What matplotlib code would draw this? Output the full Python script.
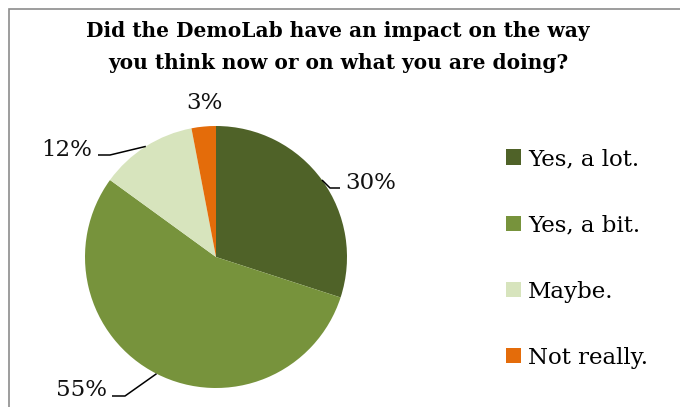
import numpy as np
import matplotlib.pyplot as plt
from matplotlib.patches import Rectangle

# survey answers
labels = ["Yes, a lot.", "Yes, a bit.", "Maybe.", "Not really."]
shares = [30, 55, 12, 3]
pct_text = ["30%", "55%", "12%", "3%"]
colors = ["#4F6228", "#77933C", "#D7E4BD", "#E46C0A"]

title = "Did the DemoLab have an impact on the way\nyou think now or on what you are doing?"

W, H = 680, 407
fig = plt.figure(figsize=(W / 100, H / 100), dpi=100)
ax = fig.add_axes([0, 0, 1, 1])

cx, cy, r = 216, H - 257, 131
wedges, _ = ax.pie(shares, colors=colors, startangle=90, counterclock=False,
                   center=(cx, cy), radius=r, frame=True,
                   wedgeprops=dict(linewidth=0))
ax.set_xlim(0, W)
ax.set_ylim(0, H)
ax.axis("off")

# label placement (text pos, elbow points) in pixel coords, y down
label_pos = {
    "30%": dict(text=(371, 183), line=[(340, 188), (330, 188)]),
    "55%": dict(text=(81, 390), line=[(112, 396), (125, 396)]),
    "12%": dict(text=(67, 150), line=[(98, 155), (110, 155)]),
    "3%": dict(text=(204, 103), line=None),
}

for w, txt in zip(wedges, pct_text):
    mid = np.deg2rad((w.theta1 + w.theta2) / 2)
    ex, ey = cx + r * np.cos(mid), cy + r * np.sin(mid)
    p = label_pos[txt]
    tx, ty = p["text"]
    ax.text(tx, H - ty, txt, ha="center", va="center", fontsize=16.5,
            family="DejaVu Serif", color="#111111")
    if p["line"] is not None:
        xs = [q[0] for q in p["line"]] + [ex]
        ys = [H - q[1] for q in p["line"]] + [ey]
        ax.plot(xs, ys, color="black", lw=1.1, solid_capstyle="butt")

fig.text(338 / W, 1 - 47 / H, title, ha="center", va="center", fontsize=14.5,
         fontweight="bold", family="DejaVu Serif", linespacing=1.8)

leg = ax.legend(wedges, labels, loc="upper left", bbox_to_anchor=(497 / W, 1 - 139 / H),
                frameon=False, fontsize=16.5, handlelength=0.65, handleheight=0.65,
                handletextpad=0.3, labelspacing=1.93, borderaxespad=0)
for t in leg.get_texts():
    t.set_family("DejaVu Serif")

fig.add_artist(Rectangle((8.5 / W, -0.1), 1.2, (H - 8.5) / H + 0.1, transform=fig.transFigure,
                         fill=False, edgecolor="#8c8c8c", lw=1.2))

fig.savefig("out.png", dpi=100)
